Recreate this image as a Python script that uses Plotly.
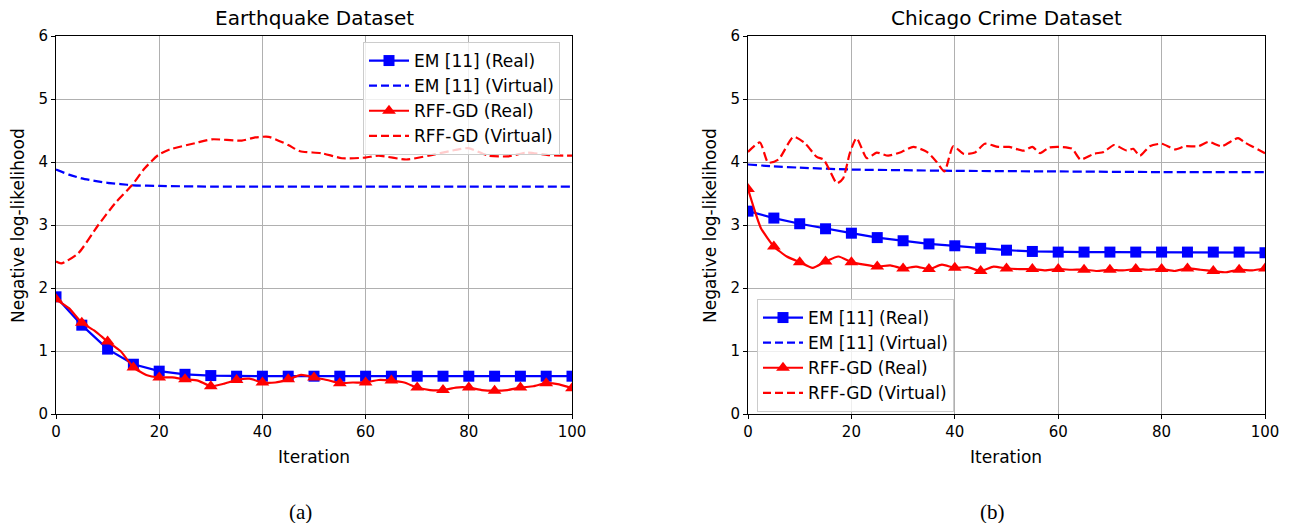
import plotly.graph_objects as go

# ---------------- data ----------------
# Earthquake dataset (left)
eq_em_real_x = [0, 5, 10, 15, 20, 25, 30, 35, 40, 45, 50, 55, 60, 65, 70, 75, 80, 85, 90, 95, 100]
eq_em_real_y = [1.86, 1.41, 1.03, 0.79, 0.68, 0.63, 0.61, 0.60, 0.60, 0.60, 0.60, 0.60, 0.60, 0.60,
                0.60, 0.60, 0.60, 0.60, 0.60, 0.60, 0.60]

eq_em_virt_x = [0, 2.5, 5, 7.5, 10, 12.5, 15, 20, 30, 40, 60, 80, 100]
eq_em_virt_y = [3.88, 3.80, 3.74, 3.70, 3.67, 3.65, 3.63, 3.62, 3.61, 3.61, 3.61, 3.61, 3.61]

eq_rff_real_x = [0, 2.5, 5, 7.5, 10, 12.5, 15, 17.5, 20, 22.5, 25, 27.5, 30, 32.5, 35, 37.5, 40,
                 42.5, 45, 47.5, 50, 52.5, 55, 57.5, 60, 62.5, 65, 67.5, 70, 72.5, 75, 77.5, 80,
                 82.5, 85, 87.5, 90, 92.5, 95, 97.5, 100]
eq_rff_real_y = [1.82, 1.68, 1.45, 1.32, 1.15, 1.00, 0.74, 0.62, 0.58, 0.58, 0.55, 0.53, 0.44, 0.48,
                 0.54, 0.56, 0.50, 0.50, 0.55, 0.62, 0.58, 0.54, 0.49, 0.50, 0.50, 0.54, 0.53, 0.50,
                 0.42, 0.38, 0.38, 0.42, 0.42, 0.38, 0.37, 0.38, 0.42, 0.44, 0.49, 0.47, 0.41]

eq_rff_virt_x = [0, 1, 4.3, 8.2, 11.4, 14.7, 17.2, 19.8, 22.1, 27, 30.2, 36, 38.6, 41.2, 45, 47.3,
                 51.5, 55.4, 59.9, 62.5, 67.9, 72.2, 77.3, 79.9, 83.8, 87.6, 91.2, 95.4, 100]
eq_rff_virt_y = [2.42, 2.39, 2.55, 3.00, 3.34, 3.63, 3.90, 4.11, 4.20, 4.30, 4.36, 4.34, 4.39, 4.40,
                 4.27, 4.17, 4.14, 4.06, 4.07, 4.10, 4.04, 4.10, 4.19, 4.22, 4.10, 4.09, 4.15, 4.11, 4.10]

# Chicago crime dataset (right)
cc_em_real_x = [0, 5, 10, 15, 20, 25, 30, 35, 40, 45, 50, 55, 60, 65, 70, 75, 80, 85, 90, 95, 100]
cc_em_real_y = [3.22, 3.11, 3.02, 2.94, 2.87, 2.80, 2.75, 2.70, 2.67, 2.63, 2.60, 2.58, 2.57, 2.57,
                2.57, 2.57, 2.57, 2.57, 2.57, 2.57, 2.56]

cc_em_virt_x = [0, 5, 10, 20, 30, 40, 60, 80, 100]
cc_em_virt_y = [3.96, 3.93, 3.91, 3.88, 3.87, 3.86, 3.85, 3.84, 3.84]

cc_rff_real_x = [0, 1.25, 2.5, 5, 7.5, 10, 12.5, 15, 17.5, 20, 22.5, 25, 27.5, 30, 32.5, 35, 37.5,
                 40, 42.5, 45, 47.5, 50, 52.5, 55, 57.5, 60, 62.5, 65, 67.5, 70, 72.5, 75, 77.5,
                 80, 82.5, 85, 87.5, 90, 92.5, 95, 97.5, 100]
cc_rff_real_y = [3.57, 3.24, 2.95, 2.66, 2.50, 2.41, 2.32, 2.42, 2.50, 2.41, 2.37, 2.34, 2.36, 2.31,
                 2.34, 2.30, 2.37, 2.32, 2.33, 2.27, 2.34, 2.31, 2.30, 2.30, 2.28, 2.30, 2.29, 2.29,
                 2.27, 2.29, 2.28, 2.30, 2.29, 2.30, 2.27, 2.31, 2.29, 2.27, 2.25, 2.29, 2.28, 2.31]

cc_rff_virt_x = [0, 2.3, 3.9, 5.9, 8.8, 11, 13.3, 14.6, 15.9, 17.2, 18.4, 19.7, 21, 23, 24.9, 27.1,
                 29.7, 32, 34.6, 36.5, 38, 39.7, 41.7, 43.9, 45.8, 48.4, 50.5, 53.3, 55, 56.5, 58.2,
                 60.4, 62.7, 64.3, 66.9, 68.8, 70.8, 73.3, 74.5, 75.8, 77.7, 80, 82.6, 84.5, 87.1,
                 89.1, 91.6, 94.8, 96.1, 100]
cc_rff_virt_y = [4.16, 4.31, 3.99, 4.04, 4.40, 4.30, 4.08, 4.04, 3.85, 3.66, 3.74, 4.14, 4.38, 4.06,
                 4.15, 4.10, 4.16, 4.24, 4.16, 4.00, 3.85, 4.25, 4.13, 4.15, 4.29, 4.24, 4.24, 4.18,
                 4.24, 4.14, 4.23, 4.24, 4.21, 4.04, 4.13, 4.16, 4.27, 4.18, 4.21, 4.10, 4.25, 4.29,
                 4.20, 4.25, 4.25, 4.32, 4.25, 4.38, 4.31, 4.14]

labels = ["EM [11] (Real)", "EM [11] (Virtual)", "RFF-GD (Real)", "RFF-GD (Virtual)"]
titles = ["Earthquake Dataset", "Chicago Crime Dataset"]
captions = ["(a)", "(b)"]
x_ticks = [0, 20, 40, 60, 80, 100]
y_ticks = [0, 1, 2, 3, 4, 5, 6]

BLUE = "#0000ff"
RED = "#ff0000"
FONT = "DejaVu Sans"
W, H = 1290, 523

fig = go.Figure()

panels = [
    dict(xa="x", ya="y", legend="legend",
         em_r=(eq_em_real_x, eq_em_real_y), em_v=(eq_em_virt_x, eq_em_virt_y),
         rf_r=(eq_rff_real_x, eq_rff_real_y), rf_v=(eq_rff_virt_x, eq_rff_virt_y)),
    dict(xa="x2", ya="y2", legend="legend2",
         em_r=(cc_em_real_x, cc_em_real_y), em_v=(cc_em_virt_x, cc_em_virt_y),
         rf_r=(cc_rff_real_x, cc_rff_real_y), rf_v=(cc_rff_virt_x, cc_rff_virt_y)),
]

DASH = "9px,4px"
for p in panels:
    xa, ya, lg = p["xa"], p["ya"], p["legend"]
    fig.add_trace(go.Scatter(x=p["em_v"][0], y=p["em_v"][1], mode="lines", xaxis=xa, yaxis=ya,
                             line=dict(color=BLUE, width=2.2, dash=DASH, shape="spline", smoothing=0.6),
                             showlegend=False, hoverinfo="skip"))
    fig.add_trace(go.Scatter(x=p["rf_v"][0], y=p["rf_v"][1], mode="lines", xaxis=xa, yaxis=ya,
                             line=dict(color=RED, width=2.2, dash=DASH, shape="spline", smoothing=0.6),
                             showlegend=False, hoverinfo="skip"))
    fig.add_trace(go.Scatter(x=p["em_r"][0], y=p["em_r"][1], mode="lines+markers", xaxis=xa, yaxis=ya,
                             line=dict(color=BLUE, width=2.2),
                             marker=dict(symbol="square", size=11, color=BLUE),
                             showlegend=False, hoverinfo="skip"))
    fig.add_trace(go.Scatter(x=p["rf_r"][0], y=p["rf_r"][1], mode="lines", xaxis=xa, yaxis=ya,
                             line=dict(color=RED, width=2.2, shape="spline", smoothing=0.5),
                             showlegend=False, hoverinfo="skip"))
    mx = [x for x in p["rf_r"][0] if x % 5 == 0]
    my = [y for x, y in zip(p["rf_r"][0], p["rf_r"][1]) if x % 5 == 0]
    fig.add_trace(go.Scatter(x=mx, y=my, mode="markers", xaxis=xa, yaxis=ya,
                             marker=dict(symbol="triangle-up", size=12, color=RED),
                             showlegend=False, hoverinfo="skip"))
    specs = [
        dict(mode="lines+markers", line=dict(color=BLUE, width=2.2), marker=dict(symbol="square", size=11, color=BLUE)),
        dict(mode="lines", line=dict(color=BLUE, width=2.2, dash="8px,4px")),
        dict(mode="lines+markers", line=dict(color=RED, width=2.2), marker=dict(symbol="triangle-up", size=12, color=RED)),
        dict(mode="lines", line=dict(color=RED, width=2.2, dash="8px,4px")),
    ]
    for lab, s in zip(labels, specs):
        fig.add_trace(go.Scatter(x=[None], y=[None], name=lab, xaxis=xa, yaxis=ya,
                                 legend=lg, showlegend=True, **s))


def px_x(v):
    return v / W


def px_y(v):
    return 1 - v / H


axis_common = dict(showline=True, linecolor="black", linewidth=1, mirror=True,
                   ticks="outside", ticklen=4, tickcolor="black", tickwidth=1,
                   showgrid=True, gridcolor="#b0b0b0", gridwidth=1, zeroline=False,
                   automargin=False,
                   tickfont=dict(family=FONT, size=15, color="black"))

ydom = [px_y(414), px_y(36)]
leg_common = dict(xanchor="left", yanchor="top",
                  bgcolor="rgba(255,255,255,0.8)", bordercolor="#cccccc", borderwidth=1,
                  font=dict(family=FONT, size=17, color="black"), itemwidth=40)
fig.update_layout(
    width=W, height=H, margin=dict(l=0, r=0, t=0, b=0),
    plot_bgcolor="white", paper_bgcolor="white",
    xaxis=dict(domain=[px_x(56), px_x(572)], range=[0, 100], tickvals=x_ticks, anchor="y", **axis_common),
    yaxis=dict(domain=ydom, range=[0, 6], tickvals=y_ticks, anchor="x", **axis_common),
    xaxis2=dict(domain=[px_x(748), px_x(1265)], range=[0, 100], tickvals=x_ticks, anchor="y2", **axis_common),
    yaxis2=dict(domain=ydom, range=[0, 6], tickvals=y_ticks, anchor="x2", **axis_common),
    legend=dict(x=px_x(363), y=px_y(42), **leg_common),
    legend2=dict(x=px_x(757), y=px_y(299), **leg_common),
    showlegend=True,
)

ann = []
for cx, t, c in [(314, titles[0], captions[0]), (1006, titles[1], captions[1])]:
    ann.append(dict(x=px_x(cx), y=px_y(18), xref="paper", yref="paper", text=t, showarrow=False,
                    font=dict(family=FONT, size=20, color="black"), xanchor="center", yanchor="middle"))
    ann.append(dict(x=px_x(cx), y=px_y(457), xref="paper", yref="paper", text="Iteration", showarrow=False,
                    font=dict(family=FONT, size=17, color="black"), xanchor="center", yanchor="middle"))
    ann.append(dict(x=px_x(cx - 14), y=px_y(512), xref="paper", yref="paper", text=c, showarrow=False,
                    font=dict(family="Liberation Serif", size=21, color="black"), xanchor="center", yanchor="middle"))
for lx in [18, 710]:
    ann.append(dict(x=px_x(lx), y=px_y(226), xref="paper", yref="paper", text="Negative log-likelihood",
                    showarrow=False, textangle=-90,
                    font=dict(family=FONT, size=17, color="black"), xanchor="center", yanchor="middle"))
fig.update_layout(annotations=ann)

fig.write_html("out.html", config={"displayModeBar": False},
               post_script="document.body.style.margin='0';document.body.style.overflow='hidden';")
